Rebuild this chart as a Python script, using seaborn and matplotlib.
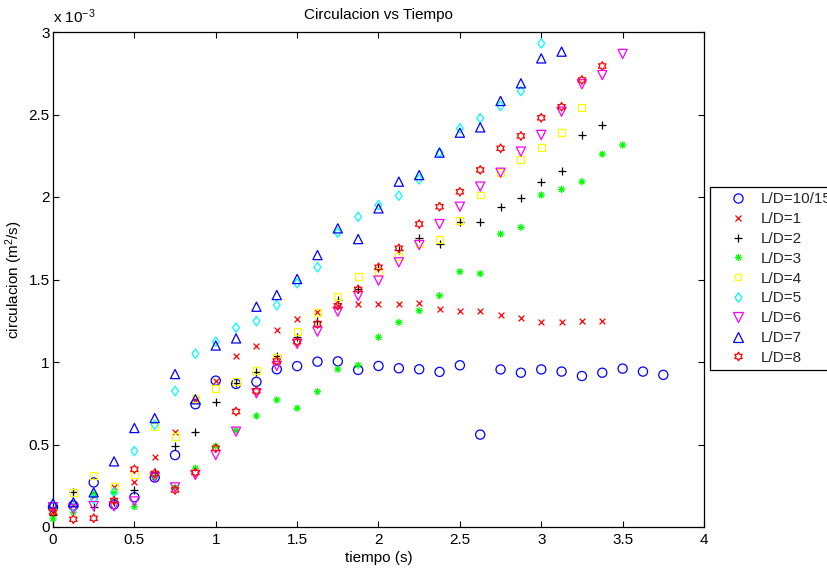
import numpy as np
import pandas as pd
import matplotlib
matplotlib.use("Agg")
import matplotlib.pyplot as plt
from matplotlib.path import Path
from matplotlib.lines import Line2D
from matplotlib.ticker import FuncFormatter, MultipleLocator
import seaborn as sns

# Sampling instants (s)
tiempo = [0.0, 0.125, 0.25, 0.375, 0.5, 0.625, 0.75, 0.875, 1.0, 1.125,
          1.25, 1.375, 1.5, 1.625, 1.75, 1.875, 2.0, 2.125, 2.25, 2.375,
          2.5, 2.625, 2.75, 2.875, 3.0, 3.125, 3.25, 3.375, 3.5, 3.625, 3.75]

# Circulation for each L/D ratio, in units of 1e-3 m^2/s
circ_ld_10_15 = [0.12, 0.13, 0.27, 0.137, 0.18, 0.30, 0.436, 0.744, 0.887, 0.867,
                 0.88, 0.956, 0.975, 1.002, 1.004, 0.952, 0.976, 0.962, 0.956, 0.94,
                 0.98, 0.56, 0.955, 0.935, 0.955, 0.942, 0.915, 0.935, 0.96, 0.942, 0.922]
circ_ld_1 = [0.10, 0.135, 0.19, 0.245, 0.275, 0.426, 0.578, 0.77, 0.887, 1.036,
             1.10, 1.196, 1.26, 1.305, 1.34, 1.35, 1.35, 1.35, 1.355, 1.323,
             1.307, 1.31, 1.287, 1.265, 1.242, 1.24, 1.25, 1.25]
circ_ld_2 = [0.07, 0.214, 0.12, 0.15, 0.224, 0.335, 0.49, 0.576, 0.76, 0.87,
             0.94, 1.036, 1.153, 1.248, 1.376, 1.44, 1.568, 1.68, 1.749, 1.713,
             1.851, 1.851, 1.941, 1.996, 2.093, 2.158, 2.376, 2.436]
circ_ld_3 = [0.05, 0.09, 0.20, 0.21, 0.123, 0.30, 0.24, 0.356, 0.49, 0.585,
             0.673, 0.77, 0.72, 0.82, 0.956, 0.98, 1.15, 1.24, 1.311, 1.402,
             1.547, 1.535, 1.776, 1.816, 2.012, 2.046, 2.093, 2.26, 2.315]
circ_ld_4 = [0.10, 0.21, 0.31, 0.248, 0.32, 0.61, 0.547, 0.78, 0.842, 0.88,
             0.95, 1.03, 1.184, 1.30, 1.396, 1.521, 1.547, 1.638, 1.72, 1.743,
             1.857, 2.012, 2.147, 2.23, 2.301, 2.39, 2.541]
circ_ld_5 = [0.13, 0.12, 0.168, 0.21, 0.46, 0.62, 0.824, 1.05, 1.123, 1.208,
             1.248, 1.345, 1.477, 1.574, 1.784, 1.88, 1.952, 2.008, 2.107, 2.269,
             2.416, 2.477, 2.552, 2.642, 2.931]
circ_ld_6 = [0.12, 0.11, 0.127, 0.125, 0.155, 0.30, 0.24, 0.315, 0.436, 0.578,
             0.81, 0.976, 1.11, 1.184, 1.305, 1.40, 1.493, 1.604, 1.709, 1.836,
             1.941, 2.063, 2.147, 2.275, 2.376, 2.517, 2.683, 2.739, 2.867]
circ_ld_7 = [0.143, 0.15, 0.21, 0.398, 0.60, 0.66, 0.927, 0.774, 1.10, 1.143,
             1.335, 1.406, 1.503, 1.648, 1.81, 1.745, 1.931, 2.093, 2.133, 2.269,
             2.39, 2.422, 2.582, 2.689, 2.84, 2.881]
circ_ld_8 = [0.09, 0.047, 0.053, 0.16, 0.35, 0.325, 0.224, 0.33, 0.477, 0.70,
             0.825, 1.006, 1.123, 1.23, 1.341, 1.44, 1.574, 1.689, 1.836, 1.941,
             2.032, 2.164, 2.295, 2.37, 2.48, 2.547, 2.709, 2.794]

labels = ["L/D=10/15", "L/D=1", "L/D=2", "L/D=3", "L/D=4",
          "L/D=5", "L/D=6", "L/D=7", "L/D=8"]
series = [circ_ld_10_15, circ_ld_1, circ_ld_2, circ_ld_3, circ_ld_4,
          circ_ld_5, circ_ld_6, circ_ld_7, circ_ld_8]

# ---- marker shapes ----------------------------------------------------------
def hexagram_path():
    verts = []
    for k in range(12):
        ang = np.deg2rad(90 + 30 * k)
        r = 1.0 if k % 2 == 0 else 1.0 / np.sqrt(3)
        verts.append((r * np.cos(ang), r * np.sin(ang)))
    verts.append(verts[0])
    codes = [Path.MOVETO] + [Path.LINETO] * 11 + [Path.CLOSEPOLY]
    return Path(verts, codes)


def asterisk_path():
    d = np.sqrt(0.5)
    segs = [((0, -1), (0, 1)), ((-1, 0), (1, 0)),
            ((-d, -d), (d, d)), ((-d, d), (d, -d))]
    verts, codes = [], []
    for a, b in segs:
        verts += [a, b]
        codes += [Path.MOVETO, Path.LINETO]
    return Path(verts, codes)


def diamond_path():
    verts = [(0, 1), (0.72, 0), (0, -1), (-0.72, 0), (0, 1)]
    codes = [Path.MOVETO, Path.LINETO, Path.LINETO, Path.LINETO, Path.CLOSEPOLY]
    return Path(verts, codes)


# (marker, colour, size in points, hollow?)
styles = [
    ("o", (0, 0, 1), 6.6, True),
    ("x", (1, 0, 0), 4.2, False),
    ("+", (0, 0, 0), 5.6, False),
    (asterisk_path(), (0, 1, 0), 5.2, True),
    ("s", (1, 1, 0), 5.0, True),
    (diamond_path(), (0, 1, 1), 6.8, True),
    ("v", (1, 0, 1), 6.6, True),
    ("^", (0, 0, 1), 6.6, True),
    (hexagram_path(), (1, 0, 0), 6.2, True),
]

# ---- figure -----------------------------------------------------------------
sns.set_theme(style="white")
plt.rcParams["font.family"] = ["Liberation Sans", "DejaVu Sans"]
plt.rcParams["mathtext.fontset"] = "custom"
plt.rcParams["mathtext.rm"] = "Liberation Sans"
plt.rcParams["mathtext.it"] = "Liberation Sans:italic"

W, H = 828, 571
fig = plt.figure(figsize=(W / 100, H / 100), dpi=100)
fig.patch.set_facecolor("white")
ax = fig.add_axes([53 / W, 1 - 527 / H, 651 / W, 495 / H])
ax.set_facecolor("white")

lw = 0.9
for lab, vals, (mk, col, ms, hollow) in zip(labels, series, styles):
    df = pd.DataFrame({"tiempo": tiempo[:len(vals)],
                       "circulacion": np.asarray(vals) * 1e-3})
    kw = dict(data=df, x="tiempo", y="circulacion", ax=ax, marker=mk,
              s=ms ** 2, linewidth=lw, clip_on=False, zorder=3, legend=False)
    if hollow:
        kw.update(facecolor="none", edgecolor=col)
    else:
        kw.update(color=col)
    sns.scatterplot(**kw)

ax.set_xlim(0, 4)
ax.set_ylim(0, 3e-3)
ax.xaxis.set_major_locator(MultipleLocator(0.5))
ax.yaxis.set_major_locator(MultipleLocator(0.5e-3))
ax.xaxis.set_major_formatter(FuncFormatter(lambda v, _: f"{v:g}"))
ax.yaxis.set_major_formatter(FuncFormatter(lambda v, _: f"{v * 1e3:g}"))

for sp in ax.spines.values():
    sp.set_visible(True)
    sp.set_color("black")
    sp.set_linewidth(0.9)

ax.tick_params(axis="both", which="major", direction="in", length=4.5, width=0.8,
               color="black", labelsize=11, labelcolor="black",
               top=True, right=True, bottom=True, left=True)
ax.tick_params(axis="x", pad=4.5)
ax.tick_params(axis="y", pad=2.5)

ax.set_title("Circulacion vs Tiempo", fontsize=11, color="black", pad=9)
ax.set_xlabel("tiempo (s)", fontsize=11, color="black", labelpad=3)
ax.set_ylabel("circulacion (m$^2$/s)", fontsize=11, color="black")
ax.yaxis.set_label_coords((25 - 53) / 651, 0.5)

# exponent of the y scale
ax.annotate("x 10$^{-3}$", xy=(0, 1), xycoords="axes fraction",
            xytext=(0, 4), textcoords="offset points",
            ha="left", va="bottom", fontsize=11, color="black")

# legend outside on the right
handles = []
for lab, (mk, col, ms, hollow) in zip(labels, styles):
    if hollow:
        h = Line2D([], [], ls="none", marker=mk, markersize=ms,
                   markerfacecolor="none", markeredgecolor=col, markeredgewidth=lw)
    else:
        h = Line2D([], [], ls="none", marker=mk, markersize=ms,
                   color=col, markeredgewidth=lw)
    handles.append(h)

leg = ax.legend(handles, labels, loc="upper left",
                bbox_to_anchor=((710 - 53) / 651, (527 - 187) / 495),
                borderaxespad=0, frameon=True, fancybox=False, shadow=False,
                framealpha=1, edgecolor="black", fontsize=11,
                handlelength=3.0, handletextpad=0.0, labelspacing=0.38,
                borderpad=0.35, numpoints=1)
leg.get_frame().set_linewidth(0.9)

fig.savefig("out.png", dpi=100, facecolor="white")
